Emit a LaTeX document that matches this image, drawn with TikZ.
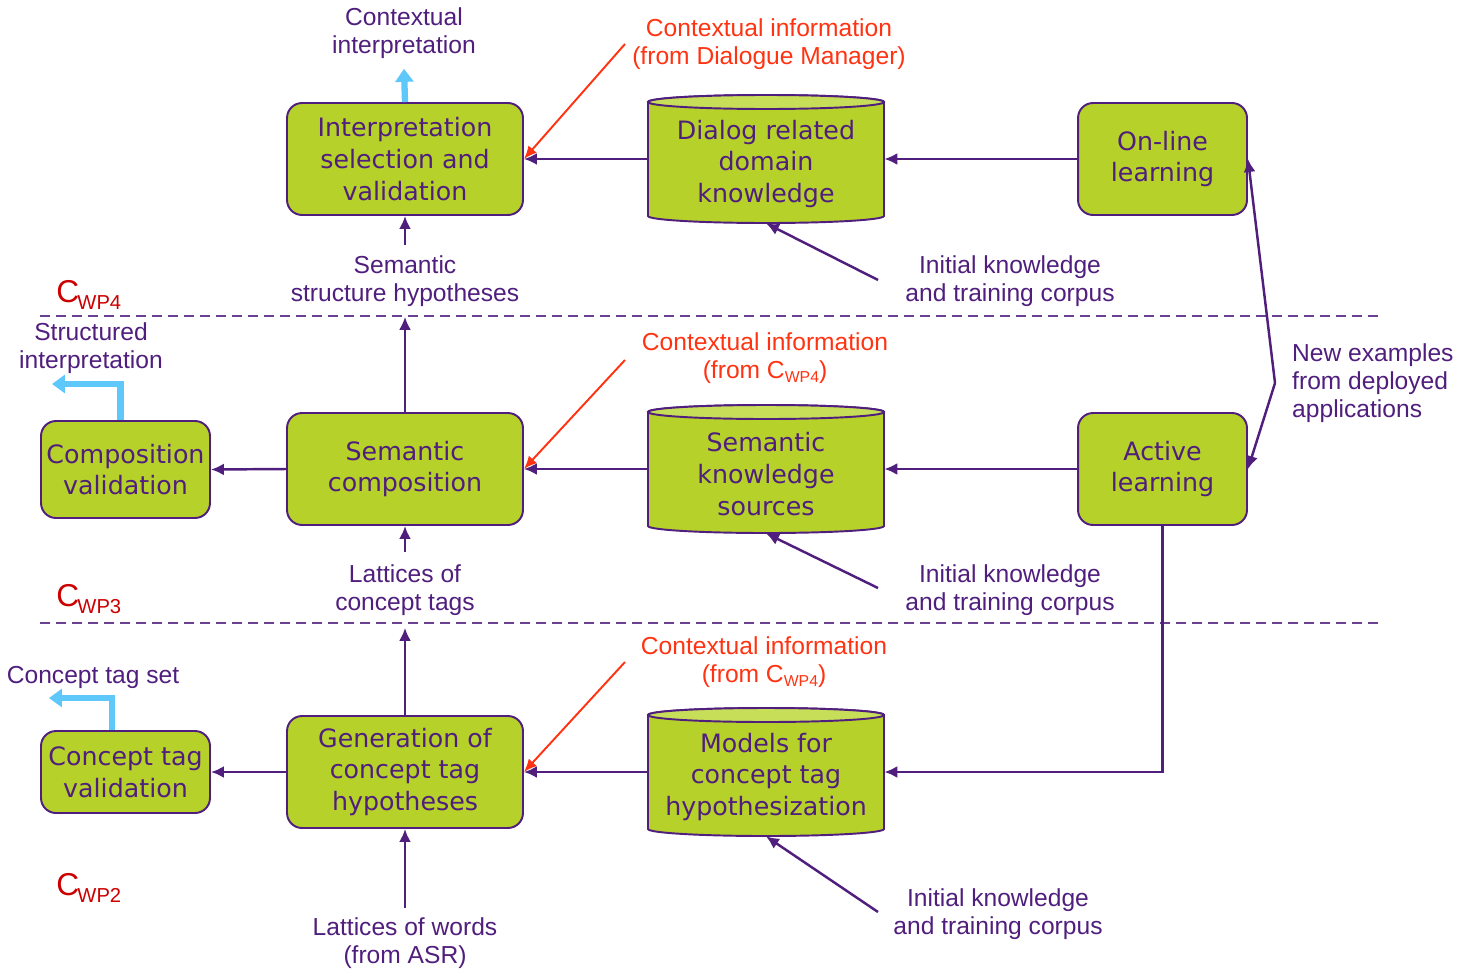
\documentclass[tikz,border=0pt]{standalone}
\usepackage{fontspec}
\setmainfont{Liberation Sans}
\newfontfamily\boxfont{DejaVu Sans}
\usetikzlibrary{arrows.meta}

\definecolor{ink}{RGB}{80,30,125}
\definecolor{leaf}{RGB}{181,209,42}
\definecolor{leaftop}{RGB}{198,222,88}
\definecolor{hot}{RGB}{255,51,17}
\definecolor{sky}{RGB}{95,200,250}
\definecolor{wp}{RGB}{204,0,0}

% labels C_WPn
\newcommand\cwp[1]{{\fontsize{18}{18}\selectfont C}\kern-1pt\raisebox{-4.5pt}{\fontsize{11.5}{11.5}\selectfont WP#1}}
\newcommand\cwpsmall[1]{C\raisebox{-2.5pt}{\fontsize{9}{9}\selectfont WP#1}}

% a storage drum: name, x, y, text
\newcommand\drum[4]{%
  \path[draw=ink, line width=1.1pt, fill=leaf]
    ({#2-118},{#3-57}) -- ({#2-118},{#3+57})
    arc[start angle=180, end angle=360, x radius=2.36cm, y radius=0.14cm]
    -- ({#2+118},{#3-57})
    arc[start angle=0, end angle=180, x radius=2.36cm, y radius=0.14cm] -- cycle;
  \path[draw=ink, line width=1.1pt, fill=leaftop]
    (#2,{#3-57}) ellipse [x radius=2.36cm, y radius=0.14cm];
  \node[drumframe] (#1) at (#2,#3) {};
  \node[drumtext] (#1-t) at (#2,{#3+5}) {#4};
}

\begin{document}
\begin{tikzpicture}[x=0.02cm, y=-0.02cm,
  every node/.style={text=ink},
  lab/.style={font=\fontsize{14}{16}\selectfont, align=center, text=ink},
  redlab/.style={lab, text=hot},
  wplab/.style={text=wp, anchor=base west, inner sep=0pt},
  procbox/.style={draw=ink, line width=1.1pt, fill=leaf, rounded corners=0.3cm,
    align=center, font=\boxfont\fontsize{14.4}{18}\selectfont, inner sep=0pt},
  wide/.style={procbox, minimum width=4.72cm, minimum height=2.24cm},
  narrow/.style={procbox, minimum width=3.38cm, minimum height=2.24cm},
  drumframe/.style={minimum width=4.72cm, minimum height=2.56cm, inner sep=0pt},
  drumtext/.style={align=center, font=\boxfont\fontsize{14.4}{18}\selectfont, inner sep=0pt},
  flow/.style={draw=ink, line width=1.4pt, -{Latex[length=0.26cm,width=0.24cm]}},
  ctx/.style={draw=hot, line width=1.1pt, -{Latex[length=0.26cm,width=0.22cm]}},
  emit/.style={draw=sky, line width=3.6pt, -{Triangle[length=0.26cm,width=0.36cm]}},
  sep/.style={draw=ink!85, line width=0.9pt, dash pattern=on 0.2cm off 0.12cm}]

\useasboundingbox (0,0) rectangle (1462,970);

% level separators
\draw[sep] (40,316) -- (1380,316);
\draw[sep] (40,623) -- (1380,623);

\node[wplab] (wp4) at (56,302) {\cwp{4}};
\node[wplab] (wp3) at (56,606) {\cwp{3}};
\node[wplab] (wp2) at (56,895) {\cwp{2}};

% ---------- top level ----------
\node[wide] (interp) at (405,159) {Interpretation\\selection and\\validation};
\drum{dk}{766}{159}{Dialog related\\domain\\knowledge}
\node[narrow] (online) at (1162.5,159) {On-line\\learning};

\node[lab, inner ysep=0.2cm] (ctxint) at (404,33) {Contextual\\interpretation};
\node[redlab] (ctxdm) at (769,44) {Contextual information\\(from Dialogue Manager)};
\node[lab, inner ysep=0.2cm] (ssh) at (405,281) {Semantic\\structure hypotheses};
\node[lab] (ik1) at (1010,281) {Initial knowledge\\and training corpus};

\coordinate (r1) at (625,44);
\coordinate (k1) at (878,280);

\draw[emit] (interp.north) -- (ctxint.south);
\draw[flow] (dk.west) -- (interp.east);
\draw[flow] (online.west) -- (dk.east);
\draw[ctx] (r1) -- (interp.east);
\draw[flow] (k1) -- (dk.south);
\draw[flow] (ssh.north) -- (interp.south);

% ---------- middle level ----------
\node[narrow, minimum height=1.94cm] (compval) at (125.5,469.5) {Composition\\validation};
\node[wide] (semcomp) at (405,469) {Semantic\\composition};
\drum{sk}{766}{469}{Semantic\\knowledge\\sources}
\node[narrow] (active) at (1162.5,469) {Active\\learning};

\node[lab] (strint) at (91,348) {Structured\\interpretation};
\node[redlab] (ctx4a) at (765,358) {Contextual information\\(from \cwpsmall{4})};
\node[lab, inner ysep=0.24cm] (lct) at (405,590) {Lattices of\\concept tags};
\node[lab] (ik2) at (1010,590) {Initial knowledge\\and training corpus};
\node[lab, align=left, anchor=west] (newex) at (1286,383) {New examples\\from deployed\\applications};

\coordinate (si) at (52,384);
\coordinate (r2) at (625,360);
\coordinate (k2) at (878,588);
\coordinate (apex) at (1275,383);

\draw[emit] ([xshift=-0.1cm]compval.north) |- (si);
\draw[flow] (semcomp.north) -- (ssh.south);
\draw[flow] (semcomp.west) -- (compval.east);
\draw[flow] (sk.west) -- (semcomp.east);
\draw[flow] (active.west) -- (sk.east);
\draw[ctx] (r2) -- (semcomp.east);
\draw[flow] (k2) -- (sk.south);
\draw[flow] (lct.north) -- (semcomp.south);
\draw[flow] (apex) -- (online.east);
\draw[flow] (apex) -- (active.east);

% ---------- bottom level ----------
\node[narrow, minimum height=1.64cm] (ctval) at (125.5,772) {Concept tag\\validation};
\node[wide] (gen) at (405,772) {Generation of\\concept tag\\hypotheses};
\drum{mod}{766}{772}{Models for\\concept tag\\hypothesization}

\node[lab] (cts) at (93,677) {Concept tag set};
\node[redlab] (ctx4b) at (764,662) {Contextual information\\(from \cwpsmall{4})};
\node[lab, inner ysep=0.18cm] (lw) at (405,943) {Lattices of words\\(from ASR)};
\node[lab] (ik3) at (998,914) {Initial knowledge\\and training corpus};

\coordinate (cs) at (49,698);
\coordinate (r3) at (625,662);
\coordinate (k3) at (878,912);

\draw[emit] ([xshift=-0.27cm]ctval.north) |- (cs);
\draw[flow] (gen.north) -- (lct.south);
\draw[flow] (gen.west) -- (ctval.east);
\draw[flow] (mod.west) -- (gen.east);
\draw[flow] (active.south) |- (mod.east);
\draw[ctx] (r3) -- (gen.east);
\draw[flow] (k3) -- (mod.south);
\draw[flow] (lw.north) -- (gen.south);

\end{tikzpicture}
\end{document}
